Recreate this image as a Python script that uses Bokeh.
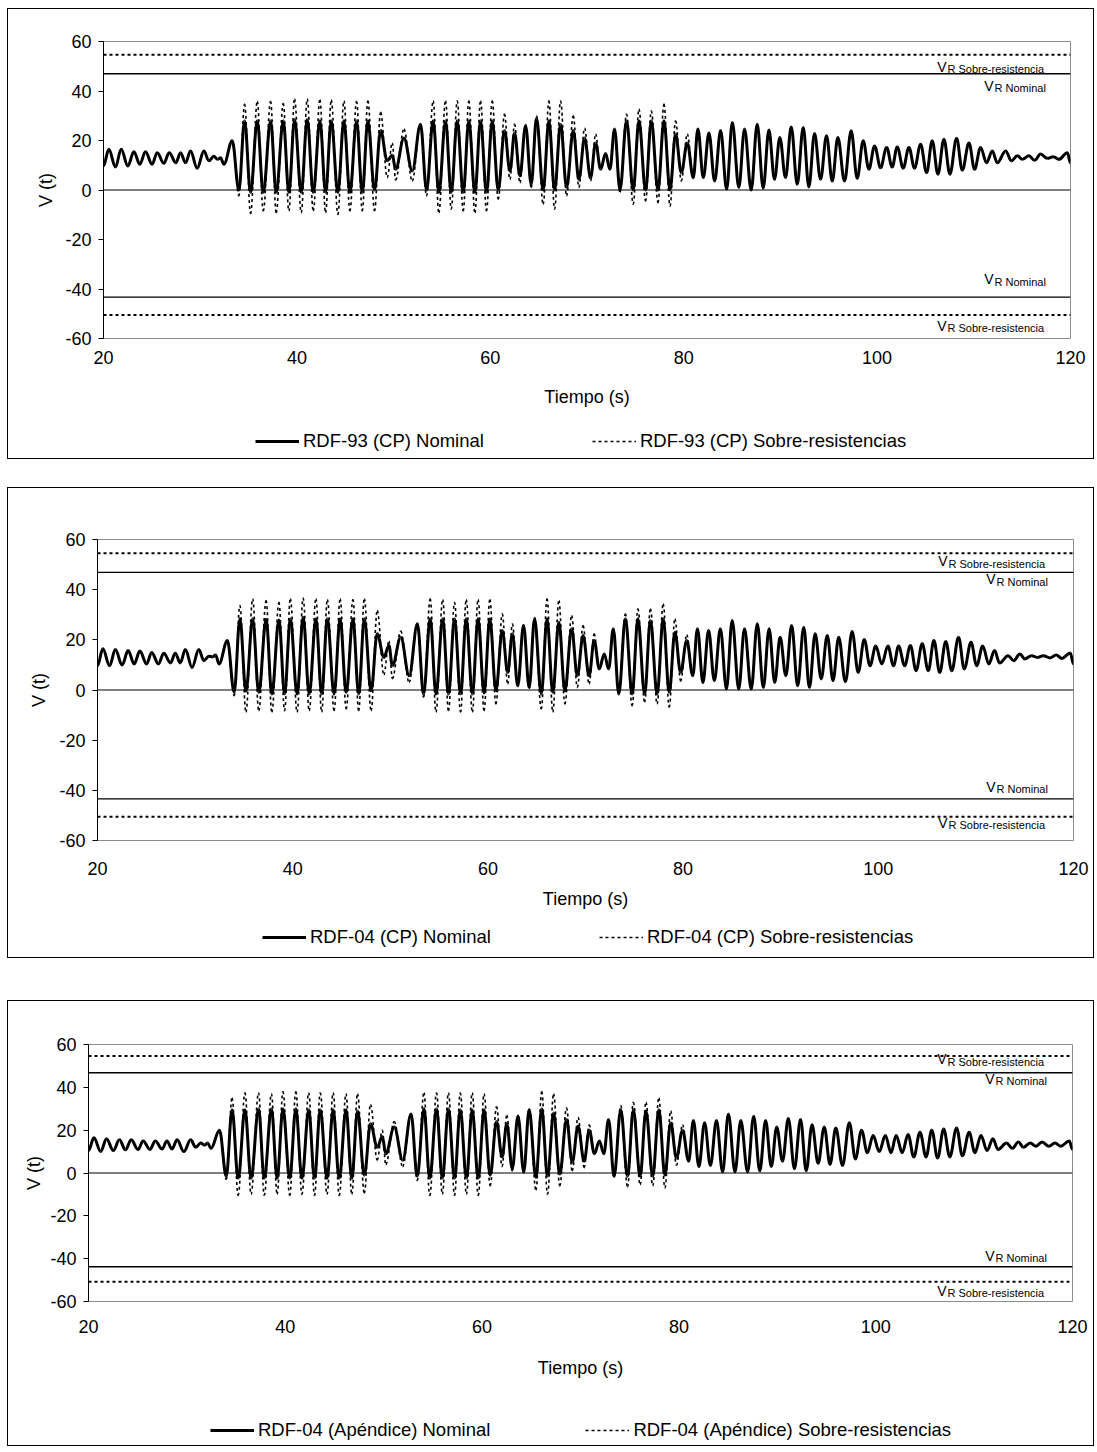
import numpy as np
from bokeh.plotting import figure
from bokeh.models import ColumnDataSource, FixedTicker, Legend, LegendItem, Span
from bokeh.layouts import column
from bokeh.embed import file_html
from bokeh.resources import INLINE
from bokeh.core.properties import value

FONT = "Liberation Sans"

x_ticks = [20, 40, 60, 80, 100, 120]
y_ticks = [-60, -40, -20, 0, 20, 40, 60]

# times of the successive extremes (peaks / troughs) of the response, s
t_ext = [
    20.00, 20.55, 21.24, 21.83, 22.52, 23.14, 23.76, 24.34, 25.03, 25.55, 26.24, 26.79,
    27.48, 27.97, 28.48, 29.00, 29.69, 30.38, 30.90, 31.41, 31.80, 32.10, 32.45, 33.31,
    34.00, 34.59, 35.21, 35.90, 36.52, 37.28, 37.86, 38.59, 39.17, 39.76, 40.45, 41.07,
    41.69, 42.38, 42.97, 43.55, 44.24, 44.86, 45.48, 46.17, 46.76, 47.34, 48.03,
    48.66, 49.34, 49.86, 50.21, 51.07, 51.93, 52.78, 53.41,
    54.09, 54.68, 55.37, 55.96, 56.58, 57.20, 57.78, 58.41, 58.99, 59.61, 60.20, 60.82,
    61.47, 62.03, 62.51, 63.06, 63.65, 64.23, 64.78, 65.47, 66.06, 66.65, 67.27, 67.89,
    68.58, 69.16, 69.75, 70.37, 70.89, 71.41, 71.92, 72.37, 72.85, 73.41,
    74.09, 74.78, 75.37, 76.06, 76.65, 77.34, 77.96, 78.58, 79.16, 79.75, 80.37, 80.99,
    81.47, 82.03, 82.61, 83.20, 83.82, 84.44,
    85.03, 85.70, 86.29, 86.98, 87.60, 88.22, 88.81, 89.39, 89.94, 90.53, 91.12, 91.74,
    92.36, 92.94, 93.53, 94.15, 94.77, 95.36, 95.94, 96.63, 97.32, 97.94, 98.56, 99.15,
    99.74, 100.36, 100.98, 101.56, 102.08, 102.70, 103.29, 103.87, 104.50, 105.12, 105.70, 106.29,
    106.91, 107.53, 108.22, 108.81, 109.50, 110.08, 110.70, 111.32, 111.91, 112.43, 113.29, 113.88,
    114.50, 115.01, 115.70, 116.29, 116.91, 117.60, 118.22, 118.81, 119.67, 120.00,
]

# ---- RDF-93 (CP) ----
nom_93 = [
    9.7, 16.5, 9.3, 16.5, 9.7, 15.5, 10.4, 15.5, 10.4, 15.1, 10.8, 15.1,
    11.0, 15.1, 11.0, 15.8, 8.8, 15.8, 11.8, 13.6, 12.4, 13.0, 10.4, 19.9,
    0.0, 28.0, -1.0, 28.0, -1.0, 28.0, -1.0, 28.0, -1.0, 28.5, -1.0, 28.5,
    -1.0, 28.0, -1.0, 28.0, -1.0, 28.0, -1.0, 28.0, -1.0, 28.0, 0.0,
    24.0, 11.8, 14.0, 8.4, 21.0, 7.7, 26.6, 0.0,
    28.0, -1.0, 28.0, -1.0, 28.0, -1.0, 28.0, -1.0, 28.0, -1.0, 28.0, 0.0,
    24.0, 7.7, 23.0, 5.7, 26.0, 2.3, 29.0, 0.0, 28.0, 0.0, 26.6, 1.0,
    24.0, 4.3, 21.0, 5.0, 19.0, 8.4, 14.7, 8.4, 24.6, 0.0,
    28.0, 0.0, 28.0, 0.0, 28.0, 0.0, 28.0, 0.0, 22.6, 7.0, 19.0, 5.0,
    24.6, 5.0, 23.0, 3.6, 24.0, 0.3,
    27.3, 1.0, 24.6, 0.0, 26.6, 0.7, 24.2, 4.3, 21.2, 5.0, 25.5, 2.3,
    25.3, 1.2, 22.8, 4.3, 21.9, 3.6, 21.2, 3.6, 23.9, 4.7, 19.9, 8.4,
    17.8, 9.0, 17.2, 9.3, 17.4, 8.8, 17.2, 8.8, 18.5, 7.0, 19.9, 6.4,
    20.5, 6.4, 20.9, 8.0, 19.0, 8.4, 17.2, 11.0, 15.8, 11.0, 15.8, 11.8,
    13.8, 12.4, 13.8, 12.0, 14.5, 12.8, 13.4, 12.4, 15.1, 11.0,
]
sob_93 = [
    9.7, 16.5, 9.3, 16.5, 9.7, 15.5, 10.4, 15.5, 10.4, 15.1, 10.8, 15.1,
    11.0, 15.1, 11.0, 15.8, 8.8, 15.8, 11.8, 13.6, 12.4, 13.0, 10.4, 19.9,
    -2.4, 34.7, -9.6, 35.8, -8.5, 35.8, -9.2, 35.0, -8.5, 36.8, -9.2, 36.8,
    -8.5, 36.4, -9.2, 36.4, -9.9, 36.0, -8.5, 35.8, -8.5, 36.0, -8.5,
    31.4, 5.0, 19.0, 4.0, 24.6, 3.6, 26.6, -2.4,
    36.0, -9.2, 36.0, -7.8, 36.0, -8.5, 36.0, -9.2, 36.0, -8.5, 36.0, -3.8,
    30.7, 4.3, 26.6, 3.0, 26.5, 1.0, 30.0, -5.8, 36.0, -7.8, 36.0, -2.4,
    30.0, 1.0, 25.0, 3.6, 22.6, 8.4, 14.7, 8.4, 24.6, -1.0,
    30.7, -5.8, 32.7, -4.5, 32.0, -5.1, 34.7, -6.5, 28.0, 3.6, 22.6, 5.0,
    24.6, 5.0, 23.0, 3.6, 24.0, 0.3,
    27.3, 1.0, 24.6, 0.0, 26.6, 0.7, 24.2, 4.3, 21.2, 5.0, 25.5, 2.3,
    25.3, 1.2, 22.8, 4.3, 21.9, 3.6, 21.2, 3.6, 23.9, 4.7, 19.9, 8.4,
    17.8, 9.0, 17.2, 9.3, 17.4, 8.8, 17.2, 8.8, 18.5, 7.0, 19.9, 6.4,
    20.5, 6.4, 20.9, 8.0, 19.0, 8.4, 17.2, 11.0, 15.8, 11.0, 15.8, 11.8,
    13.8, 12.4, 13.8, 12.0, 14.5, 12.8, 13.4, 12.4, 15.1, 11.0,
]

# ---- RDF-04 (CP) ----
nom_04 = [
    9.7, 16.4, 9.7, 16.1, 10.0, 15.7, 10.4, 15.5, 10.4, 15.0, 10.4, 14.7,
    10.8, 14.7, 10.8, 16.1, 9.0, 16.1, 11.7, 13.5, 13.2, 14.0, 10.4, 19.7,
    -0.9, 28.4, -0.5, 28.4, -1.0, 28.2, -1.6, 27.9, -1.6, 28.4, -1.6, 29.0,
    -1.6, 28.4, -1.6, 28.4, -1.6, 28.4, -1.0, 28.4, -1.6, 28.4, -0.3,
    22.4, 13.0, 17.7, 9.7, 21.0, 5.7, 26.4, -1.6,
    28.4, -1.6, 28.4, -1.6, 28.4, -1.6, 28.4, -1.6, 28.4, -1.2, 28.4, -0.3,
    23.7, 7.0, 22.4, 1.7, 25.7, 1.0, 28.4, -1.6, 28.4, -0.9, 27.0, -0.3,
    24.4, 5.7, 21.7, 5.7, 19.7, 8.4, 14.4, 8.4, 24.4, -1.6,
    28.4, -1.6, 28.4, -1.6, 27.7, -1.6, 28.4, -0.9, 23.0, 7.0, 19.7, 5.7,
    24.4, 3.0, 23.7, 3.7, 24.4, 0.4,
    27.7, 0.4, 24.4, 0.4, 26.4, 1.0, 24.4, 3.0, 21.0, 5.7, 25.7, 1.7,
    25.0, 1.0, 22.4, 4.4, 21.7, 3.7, 21.0, 3.3, 23.3, 7.0, 20.1, 9.7,
    17.5, 10.4, 17.5, 9.7, 17.5, 9.7, 17.7, 7.7, 18.4, 7.7, 19.7, 7.0,
    19.3, 7.7, 21.0, 8.4, 19.0, 9.7, 17.5, 10.4, 15.7, 10.8, 13.7, 11.7,
    14.4, 12.4, 13.7, 13.0, 13.7, 12.8, 14.0, 12.6, 14.8, 10.4,
]
sob_04 = [
    9.7, 16.4, 9.7, 16.1, 10.0, 15.7, 10.4, 15.5, 10.4, 15.0, 10.4, 14.7,
    10.8, 14.7, 10.8, 16.1, 9.0, 16.1, 11.7, 13.5, 13.2, 14.0, 10.4, 19.7,
    -2.3, 33.7, -8.9, 36.4, -8.3, 35.7, -8.9, 35.0, -8.3, 36.4, -8.9, 36.7,
    -8.3, 36.4, -8.9, 36.1, -8.3, 36.4, -7.6, 36.1, -8.3, 36.4, -8.3,
    31.7, 6.0, 19.5, 4.5, 23.5, 3.0, 26.4, -2.9,
    36.4, -8.9, 36.1, -8.3, 35.0, -8.9, 36.1, -8.9, 36.1, -8.3, 36.1, -5.6,
    30.4, 2.4, 26.4, 1.5, 26.0, 0.5, 29.0, -7.6, 36.4, -8.9, 35.7, -5.6,
    29.7, 1.0, 25.7, 2.4, 22.4, 8.4, 14.4, 8.4, 24.4, -1.6,
    30.4, -6.3, 32.4, -4.9, 32.4, -5.6, 34.4, -6.9, 28.4, 3.5, 22.0, 5.7,
    24.4, 3.0, 23.7, 3.7, 24.4, 0.4,
    27.7, 0.4, 24.4, 0.4, 26.4, 1.0, 24.4, 3.0, 21.0, 5.7, 25.7, 1.7,
    25.0, 1.0, 22.4, 4.4, 21.7, 3.7, 21.0, 3.3, 23.3, 7.0, 20.1, 9.7,
    17.5, 10.4, 17.5, 9.7, 17.5, 9.7, 17.7, 7.7, 18.4, 7.7, 19.7, 7.0,
    19.3, 7.7, 21.0, 8.4, 19.0, 9.7, 17.5, 10.4, 15.7, 10.8, 13.7, 11.7,
    14.4, 12.4, 13.7, 13.0, 13.7, 12.8, 14.0, 12.6, 14.8, 10.4,
]

# ---- RDF-04 (Apéndice) ----
nom_ap = [
    10.5, 16.5, 10.0, 16.0, 10.5, 15.5, 10.8, 15.5, 11.0, 15.0, 11.0, 15.0,
    11.2, 15.0, 11.2, 15.5, 10.0, 15.5, 12.0, 14.0, 13.0, 14.0, 11.5, 20.0,
    -1.5, 29.5, -2.5, 29.5, -2.5, 30.0, -2.5, 30.0, -2.5, 30.0, -2.5, 30.0,
    -2.5, 29.5, -2.5, 29.5, -2.5, 29.5, -2.5, 29.5, -2.5, 29.0, -1.0,
    23.0, 12.0, 17.0, 9.0, 21.5, 6.0, 27.5, -1.5,
    30.0, -2.5, 30.0, -2.5, 30.0, -2.5, 29.5, -2.5, 29.5, -2.5, 29.5, -1.0,
    24.0, 7.5, 23.0, 2.0, 26.5, 0.5, 29.5, -2.0, 30.0, -1.5, 28.0, -0.5,
    25.0, 5.0, 22.0, 5.5, 20.0, 9.0, 15.0, 9.0, 25.0, -1.5,
    29.5, -1.5, 29.5, -1.5, 29.0, -1.5, 29.5, -1.0, 23.5, 7.0, 20.0, 5.5,
    24.5, 3.0, 23.5, 3.5, 24.5, 0.5,
    27.5, 0.5, 24.5, 0.5, 26.5, 1.0, 24.5, 3.0, 21.5, 5.5, 25.5, 2.0,
    25.0, 1.0, 22.5, 4.5, 21.5, 4.0, 21.0, 3.5, 23.5, 6.5, 20.0, 9.5,
    17.5, 10.0, 17.5, 9.5, 17.5, 9.5, 18.0, 7.5, 19.0, 7.5, 20.0, 7.0,
    20.5, 7.5, 21.0, 8.0, 19.0, 9.5, 17.5, 10.5, 16.0, 11.0, 14.0, 11.5,
    14.5, 12.0, 14.0, 12.5, 14.5, 12.5, 14.0, 12.5, 15.0, 11.0,
]
sob_ap = [
    10.5, 16.5, 10.0, 16.0, 10.5, 15.5, 10.8, 15.5, 11.0, 15.0, 11.0, 15.0,
    11.2, 15.0, 11.2, 15.5, 10.0, 15.5, 12.0, 14.0, 13.0, 14.0, 11.5, 20.0,
    -3.0, 35.0, -10.5, 37.5, -10.0, 37.5, -10.5, 37.0, -10.0, 38.0, -10.5, 38.0,
    -10.0, 37.5, -10.5, 37.5, -10.0, 37.5, -10.5, 37.0, -10.0, 37.0, -9.5,
    32.0, 6.0, 20.0, 4.0, 24.0, 3.0, 27.5, -3.5,
    37.5, -10.5, 37.5, -10.0, 37.5, -10.5, 37.5, -10.0, 37.5, -10.5, 37.0, -6.0,
    31.0, 3.0, 27.0, 1.0, 27.0, 0.0, 30.0, -8.0, 38.0, -10.0, 37.0, -6.0,
    30.5, 1.0, 26.0, 2.5, 22.5, 9.0, 15.0, 9.0, 25.0, -2.0,
    31.5, -6.5, 33.0, -5.5, 33.0, -6.0, 35.0, -7.0, 29.0, 3.5, 22.5, 5.5,
    24.5, 3.0, 23.5, 3.5, 24.5, 0.5,
    27.5, 0.5, 24.5, 0.5, 26.5, 1.0, 24.5, 3.0, 21.5, 5.5, 25.5, 2.0,
    25.0, 1.0, 22.5, 4.5, 21.5, 4.0, 21.0, 3.5, 23.5, 6.5, 20.0, 9.5,
    17.5, 10.0, 17.5, 9.5, 17.5, 9.5, 18.0, 7.5, 19.0, 7.5, 20.0, 7.0,
    20.5, 7.5, 21.0, 8.0, 19.0, 9.5, 17.5, 10.5, 16.0, 11.0, 14.0, 11.5,
    14.5, 12.0, 14.0, 12.5, 14.5, 12.5, 14.0, 12.5, 15.0, 11.0,
]

# resistance levels (upper, lower)
vr_nom_93 = [47.0, -43.3]
vr_sob_93 = [54.6, -50.5]
vr_nom_04 = [46.9, -43.4]
vr_sob_04 = [54.5, -50.5]
vr_nom_ap = [46.8, -43.8]
vr_sob_ap = [54.6, -50.8]

legend_93 = ["RDF-93 (CP) Nominal", "RDF-93 (CP) Sobre-resistencias"]
legend_04 = ["RDF-04 (CP) Nominal", "RDF-04 (CP) Sobre-resistencias"]
legend_ap = ["RDF-04 (Apéndice) Nominal", "RDF-04 (Apéndice) Sobre-resistencias"]

for arr in (nom_93, sob_93, nom_04, sob_04, nom_ap, sob_ap):
    assert len(arr) == len(t_ext), len(arr)

NOM_STYLE = dict(line_color="black", line_width=3)
SOB_STYLE = dict(line_color="black", line_width=1.6, line_dash="3 3")


def bezier_source(t, v):
    t = np.asarray(t, float)
    v = np.asarray(v, float)
    h = 0.3642 * np.diff(t)
    return ColumnDataSource(dict(
        x0=t[:-1], y0=v[:-1], x1=t[1:], y1=v[1:],
        cx0=t[:-1] + h, cy0=v[:-1], cx1=t[1:] - h, cy1=v[1:]))


def style_text_axis(ax, size="18px"):
    ax.major_label_text_font = FONT
    ax.major_label_text_font_size = size
    ax.major_label_text_color = "black"
    ax.axis_label_text_font = FONT
    ax.axis_label_text_font_size = size
    ax.axis_label_text_font_style = "normal"
    ax.axis_label_text_color = "black"


def make_panel(nom, sob, vr_nom, vr_sob, labels, cfg):
    p = figure(width=1087, height=cfg["height"],
               x_range=(x_ticks[0], x_ticks[-1]), y_range=(y_ticks[0], y_ticks[-1]),
               output_backend="svg", toolbar_location=None,
               min_border_left=cfg["left"], min_border_right=cfg["right"],
               min_border_top=cfg["top"], min_border_bottom=cfg["bottom"])
    p.styles = {"border": "1px solid black", "border-bottom": "none"}
    p.margin = (cfg["gap"], 0, 0, 0)
    p.grid.visible = False
    p.outline_line_color = "#8c8c8c"
    p.outline_line_width = 1
    p.background_fill_color = "white"
    p.border_fill_color = "white"

    ya = p.yaxis[0]
    ya.ticker = FixedTicker(ticks=y_ticks)
    ya.major_label_overrides = {v: str(v) for v in y_ticks}
    ya.axis_line_color = "black"
    ya.axis_line_width = 1
    ya.major_tick_line_color = "black"
    ya.major_tick_out = 5
    ya.major_tick_in = 0
    ya.minor_tick_line_color = None
    ya.major_label_standoff = 7
    ya.axis_label = "V (t)"
    ya.axis_label_standoff = cfg["ylabstand"]
    style_text_axis(ya)

    xa = p.xaxis[0]
    xa.ticker = FixedTicker(ticks=x_ticks)
    xa.axis_line_color = None
    xa.major_tick_line_color = None
    xa.minor_tick_line_color = None
    xa.major_tick_out = 0
    xa.major_tick_in = 0
    xa.major_label_standoff = cfg["xstand"]
    xa.axis_label = "Tiempo (s)"
    xa.axis_label_standoff = cfg["xlabstand"]
    style_text_axis(xa)

    # reference lines
    p.add_layout(Span(location=0, dimension="width", line_color="black", line_width=1))
    for v in vr_nom:
        p.add_layout(Span(location=v, dimension="width", line_color="black", line_width=1.4))
    for v in vr_sob:
        p.add_layout(Span(location=v, dimension="width", line_color="black",
                          line_width=2, line_dash="3 3"))

    # response curves
    p.bezier(x0="x0", y0="y0", x1="x1", y1="y1", cx0="cx0", cy0="cy0",
             cx1="cx1", cy1="cy1", source=bezier_source(t_ext, nom), **NOM_STYLE)
    p.bezier(x0="x0", y0="y0", x1="x1", y1="y1", cx0="cx0", cy0="cy0",
             cx1="cx1", cy1="cy1", source=bezier_source(t_ext, sob), **SOB_STYLE)

    # V_R labels
    specs = [(vr_sob[0], "R Sobre-resistencia", cfg["sob_dx"], cfg["dy"][0]),
             (vr_nom[0], "R Nominal", cfg["nom_dx"], cfg["dy"][1]),
             (vr_nom[1], "R Nominal", cfg["nom_dx"], cfg["dy"][2]),
             (vr_sob[1], "R Sobre-resistencia", cfg["sob_dx"], cfg["dy"][3])]
    for yv, sub, dx, dy in specs:
        p.text(x=[x_ticks[-1]], y=[yv], text=["V"], x_offset=dx - 1, y_offset=dy,
               text_align="right", text_baseline="alphabetic",
               text_font=value(FONT), text_font_size="14px", text_color="black")
        p.text(x=[x_ticks[-1]], y=[yv], text=[sub], x_offset=dx, y_offset=dy + 2.5,
               text_align="left", text_baseline="alphabetic",
               text_font=value(FONT), text_font_size="11px", text_color="black")

    # legend strip (bottom part of the framed box); its series lie outside the
    # strip's ranges so only the legend samples are visible
    pl = figure(width=1087, height=cfg["legh"], x_range=(0, 1), y_range=(0, 1),
                x_axis_location=None, y_axis_location=None,
                output_backend="svg", toolbar_location=None, min_border=0)
    pl.styles = {"border": "1px solid black", "border-top": "none"}
    pl.grid.visible = False
    pl.outline_line_color = None
    pl.background_fill_color = "white"
    pl.border_fill_color = "white"
    ln = pl.line(x=t_ext, y=nom, **NOM_STYLE)
    ls = pl.line(x=t_ext, y=sob, **SOB_STYLE)
    legend = Legend(items=[LegendItem(label=labels[0], renderers=[ln]),
                           LegendItem(label=labels[1], renderers=[ls])],
                    orientation="horizontal", location=(cfg["legx"], cfg["legy"]),
                    border_line_color=None, background_fill_alpha=0,
                    padding=0, margin=0, spacing=cfg["legspace"],
                    glyph_width=44, glyph_height=20, label_height=20,
                    label_standoff=4, label_text_font=FONT,
                    label_text_font_size="18.5px", label_text_color="black")
    pl.add_layout(legend)
    return column(p, pl, spacing=0)


cfg1 = dict(height=415, top=32, bottom=86, left=95, right=25, gap=0,
            xstand=12, xlabstand=20, ylabstand=6, sob_dx=-123, nom_dx=-76,
            dy=(12, 12, -18, 11), legh=36, legx=152, legy=7, legspace=108)
cfg2 = dict(height=433, top=51, bottom=81, left=89, right=22, gap=28,
            xstand=21, xlabstand=11, ylabstand=7, sob_dx=-125, nom_dx=-77,
            dy=(8, 7, -12, 6), legh=38, legx=165, legy=10, legspace=108)
cfg3 = dict(height=413, top=43, bottom=113, left=80, right=23, gap=42,
            xstand=18, xlabstand=22, ylabstand=3, sob_dx=-125, nom_dx=-77,
            dy=(3, 6, -11, 9), legh=33, legx=122, legy=5, legspace=95)

c1 = make_panel(nom_93, sob_93, vr_nom_93, vr_sob_93, legend_93, cfg1)
c2 = make_panel(nom_04, sob_04, vr_nom_04, vr_sob_04, legend_04, cfg2)
c3 = make_panel(nom_ap, sob_ap, vr_nom_ap, vr_sob_ap, legend_ap, cfg3)

layout = column(c1, c2, c3, spacing=0)
layout.margin = (8, 0, 0, 7)
open("out.html", "w").write(file_html(layout, INLINE))
